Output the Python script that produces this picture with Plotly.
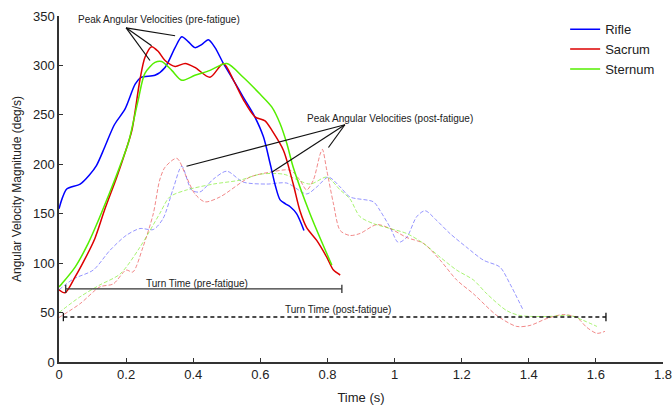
import plotly.graph_objects as go

# ---------------- data ----------------
rifle_pre_t = [0, 0.01, 0.023, 0.063, 0.09, 0.112, 0.137, 0.165, 0.197, 0.227, 0.245, 0.286, 0.316, 0.346,
               0.366, 0.385, 0.405, 0.425, 0.445, 0.465, 0.49, 0.52, 0.549, 0.579, 0.609, 0.629, 0.645,
               0.659, 0.675, 0.689, 0.708, 0.73]
rifle_pre_v = [155, 166, 175, 180, 189, 199, 218, 240, 256, 281, 288, 290, 298, 318,
               329, 324, 318, 321, 326, 318, 302, 285, 268, 251, 228, 201, 178,
               164, 160, 157, 150, 133]

sacrum_pre_t = [0, 0.018, 0.048, 0.077, 0.107, 0.137, 0.172, 0.2, 0.217, 0.241, 0.256, 0.276, 0.296, 0.316,
                0.346, 0.376, 0.405, 0.45, 0.49, 0.52, 0.55, 0.584, 0.614, 0.635, 0.669, 0.698, 0.718,
                0.738, 0.768, 0.798, 0.818, 0.838]
sacrum_pre_v = [73, 70, 86, 104, 125, 155, 187, 215, 234, 285, 308, 319, 314, 305,
                299, 302, 298, 288, 302, 285, 265, 248, 244, 234, 214, 180, 153,
                136, 123, 106, 93, 88]

sternum_pre_t = [0, 0.008, 0.048, 0.087, 0.117, 0.147, 0.167, 0.187, 0.207, 0.236, 0.256, 0.286, 0.306,
                 0.336, 0.366, 0.405, 0.45, 0.5, 0.549, 0.599, 0.634, 0.659, 0.679, 0.698, 0.748, 0.813]
sternum_pre_v = [76, 79, 96, 120, 143, 168, 185, 203, 222, 265, 292, 303, 304,
                 295, 285, 290, 295, 302, 288, 271, 258, 241, 221, 197, 150, 98]

rifle_post_t = [0, 0.043, 0.102, 0.152, 0.2, 0.241, 0.281, 0.31, 0.34, 0.366, 0.395, 0.42, 0.46, 0.5,
                0.549, 0.619, 0.679, 0.738, 0.768, 0.803, 0.838, 0.867, 0.937, 0.957, 0.987, 1.011,
                1.036, 1.066, 1.091, 1.126, 1.165, 1.215, 1.265, 1.314, 1.344, 1.384]
rifle_post_v = [73, 84, 93, 113, 128, 135, 134, 145, 175, 198, 174, 172, 185, 193,
                182, 180, 181, 170, 177, 187, 177, 167, 162, 153, 136, 121,
                126, 147, 153, 143, 130, 116, 103, 96, 79, 52]

sacrum_post_t = [0, 0.063, 0.122, 0.162, 0.2, 0.22, 0.25, 0.281, 0.3, 0.316, 0.351, 0.38, 0.405, 0.435,
                 0.48, 0.569, 0.629, 0.689, 0.718, 0.738, 0.758, 0.778, 0.785, 0.798, 0.818, 0.838,
                 0.867, 0.897, 0.947, 0.987, 1.036, 1.086, 1.136, 1.185, 1.235, 1.305, 1.364, 1.404,
                 1.454, 1.503, 1.543, 1.573, 1.603, 1.627]
sacrum_post_v = [45, 59, 76, 79, 93, 91, 116, 150, 184, 197, 206, 187, 170, 162,
                 167, 187, 192, 194, 184, 174, 184, 210, 215, 194, 160, 133,
                 128, 130, 139, 135, 126, 120, 103, 83, 69, 47, 36, 37,
                 44, 48, 45, 35, 29, 31]

sternum_post_t = [0, 0.063, 0.122, 0.182, 0.241, 0.3, 0.33, 0.38, 0.46, 0.54, 0.6, 0.669, 0.748, 0.798,
                  0.838, 0.867, 0.897, 0.937, 0.987, 1.036, 1.086, 1.136, 1.185, 1.235, 1.275, 1.334,
                  1.374, 1.454, 1.523, 1.563, 1.603]
sternum_post_v = [50, 66, 78, 89, 116, 150, 167, 174, 180, 184, 190, 190, 180, 187,
                  174, 165, 147, 140, 135, 130, 120, 106, 93, 83, 69, 52,
                  47, 46, 47, 42, 36]

# turn times
turn_pre_t = [0.02, 0.843]
turn_pre_level = 74
turn_post_t = [0.013, 1.63]
turn_post_level = 45.5

# annotation pointer targets (peaks)
pre_apex = (0.2, 338)
pre_targets = [(0.346, 330), (0.276, 320), (0.271, 305)]
post_apex = (0.852, 240)
post_targets = [(0.38, 198), (0.634, 192), (0.803, 217)]

x_ticks = [0, 0.2, 0.4, 0.6, 0.8, 1, 1.2, 1.4, 1.6, 1.8]
y_ticks = [0, 50, 100, 150, 200, 250, 300, 350]

FONT = "Liberation Sans, Arial, sans-serif"
TXT = "#222222"

fig = go.Figure()

solid = [("Rifle", rifle_pre_t, rifle_pre_v, "#0000ff"),
         ("Sacrum", sacrum_pre_t, sacrum_pre_v, "#dd0000"),
         ("Sternum", sternum_pre_t, sternum_pre_v, "#55ee00")]
dashed = [(rifle_post_t, rifle_post_v, "rgba(60,60,255,0.55)"),
          (sacrum_post_t, sacrum_post_v, "rgba(230,40,40,0.55)"),
          (sternum_post_t, sternum_post_v, "rgba(110,235,20,0.6)")]

for t, v, c in dashed:
    fig.add_trace(go.Scatter(x=t, y=v, mode="lines", showlegend=False,
                             line=dict(color=c, width=1, dash="4px,2px", shape="spline", smoothing=0.8)))

for name, t, v, c in solid:
    fig.add_trace(go.Scatter(x=t, y=v, mode="lines", name=name,
                             line=dict(color=c, width=1.5, shape="spline", smoothing=0.8)))

# turn time lines
fig.add_trace(go.Scatter(x=turn_pre_t, y=[turn_pre_level] * 2, mode="lines+markers", showlegend=False,
                         line=dict(color="#333333", width=1.3),
                         marker=dict(symbol="line-ns-open", size=6, color="#333333", line=dict(width=1.3, color="#333333"))))
fig.add_trace(go.Scatter(x=turn_post_t, y=[turn_post_level] * 2, mode="lines+markers", showlegend=False,
                         line=dict(color="#111111", width=1.3, dash="4px,3px"),
                         marker=dict(symbol="line-ns-open", size=6, color="#111111", line=dict(width=1.3, color="#111111"))))

# pointer lines
for (ax_, ay_) in pre_targets:
    fig.add_shape(type="line", x0=pre_apex[0], y0=pre_apex[1], x1=ax_, y1=ay_,
                  line=dict(color="#111111", width=1.2))
for (ax_, ay_) in post_targets:
    fig.add_shape(type="line", x0=post_apex[0], y0=post_apex[1], x1=ax_, y1=ay_,
                  line=dict(color="#111111", width=1.2))

ann_font = dict(family=FONT, size=10, color=TXT)
fig.add_annotation(x=0.298, y=346, text="Peak Angular Velocities (pre-fatigue)", showarrow=False, font=ann_font)
fig.add_annotation(x=0.985, y=246, text="Peak Angular Velocities (post-fatigue)", showarrow=False, font=ann_font)
fig.add_annotation(x=0.41, y=79, text="Turn Time (pre-fatigue)", showarrow=False, font=ann_font)
fig.add_annotation(x=0.83, y=53, text="Turn Time (post-fatigue)", showarrow=False, font=ann_font)

fig.update_layout(
    width=672, height=408,
    margin=dict(l=59, r=9, t=16, b=46),
    paper_bgcolor="white", plot_bgcolor="white",
    font=dict(family=FONT, size=13, color=TXT),
    legend=dict(x=0.838, y=1.005, xanchor="left", yanchor="top",
                bgcolor="rgba(0,0,0,0)", font=dict(size=13, color=TXT), tracegroupgap=0),
    xaxis=dict(range=[0, 1.8], tickvals=x_ticks, ticktext=[("%g" % v) for v in x_ticks],
               showgrid=False, zeroline=False, showline=True, linecolor="#333333", linewidth=1.5,
               ticks="inside", ticklen=4, tickcolor="#333333", automargin=False,
               ticklabeloverflow="allow",
               title=dict(text="Time (s)", standoff=12, font=dict(size=13))),
    yaxis=dict(range=[0, 350], tickvals=y_ticks, showgrid=False, zeroline=False,
               showline=True, linecolor="#333333", linewidth=1.5,
               ticks="inside", ticklen=4, tickcolor="#333333", automargin=False,
               ticklabeloverflow="allow",
               title=dict(text="Angular Velocity Magnitude (deg/s)", standoff=9, font=dict(size=12))),
)

fig.write_html("out.html")
